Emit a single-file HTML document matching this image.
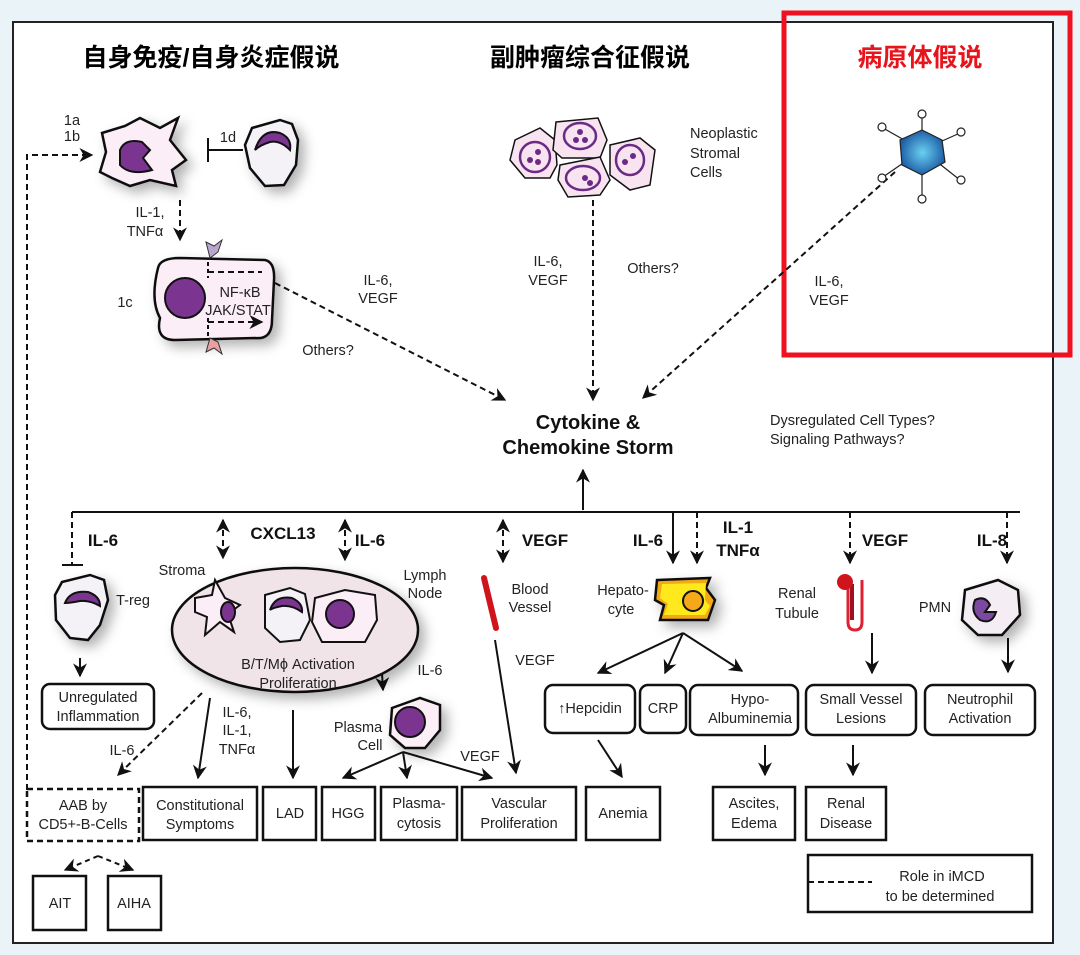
<!DOCTYPE html>
<html><head><meta charset="utf-8"><style>
html,body{margin:0;padding:0;background:#eaf4f8;}
svg{display:block;font-family:"Liberation Sans","Noto Sans CJK SC",sans-serif;}
</style></head><body>
<svg width="1080" height="955" viewBox="0 0 1080 955" xmlns="http://www.w3.org/2000/svg">
<defs>
<marker id="a" viewBox="0 0 10 10" refX="9" refY="5" markerWidth="7" markerHeight="7" orient="auto-start-reverse"><path d="M0,0 L10,5 L0,10 L3,5z" fill="#111"/></marker>
<filter id="sh" x="-30%" y="-30%" width="170%" height="170%"><feDropShadow dx="6" dy="6" stdDeviation="6" flood-color="#000" flood-opacity="0.3"/></filter>
<radialGradient id="vg"><stop offset="0" stop-color="#6ad0f0"/><stop offset="1" stop-color="#1e5fa8"/></radialGradient>
</defs>
<rect x="0" y="0" width="1080" height="955" fill="#eaf4f8"/>
<rect x="13" y="22" width="1040" height="921" fill="#fff" stroke="#222" stroke-width="2"/>
<g font-weight="bold" font-size="25" text-anchor="middle">
<text x="211" y="66">自身免疫/自身炎症假说</text>
<text x="590" y="66">副肿瘤综合征假说</text>
<text x="920" y="66" fill="#e8141c">病原体假说</text>
</g>
<rect x="784" y="13" width="286" height="342" fill="none" stroke="#f01020" stroke-width="5"/>

<g stroke="#111" stroke-width="2" fill="none">
<path d="M27,790 V155 H92" stroke-dasharray="6,4" marker-end="url(#a)"/>
<path d="M208,138 V162 M208,150 H243"/>
<path d="M180,200 V240" stroke-dasharray="6,4" marker-end="url(#a)"/>
<path d="M275,283 L505,400" stroke-dasharray="6,4" marker-end="url(#a)"/>
<path d="M593,200 V400" stroke-dasharray="6,4" marker-end="url(#a)"/>
<path d="M895,172 L643,398" stroke-dasharray="6,4" marker-end="url(#a)"/>
<path d="M583,510 V470" marker-end="url(#a)"/>
<path d="M72,512 H1020"/>
<path d="M72,512 V565" stroke-dasharray="6,4"/>
<path d="M62,565 H83"/>
<path d="M223,520 V558" stroke-dasharray="6,4" marker-start="url(#a)" marker-end="url(#a)"/>
<path d="M345,520 V560" stroke-dasharray="6,4" marker-start="url(#a)" marker-end="url(#a)"/>
<path d="M503,520 V562" stroke-dasharray="6,4" marker-start="url(#a)" marker-end="url(#a)"/>
<path d="M673,512 V563" marker-end="url(#a)"/>
<path d="M697,512 V563" stroke-dasharray="6,4" marker-end="url(#a)"/>
<path d="M850,512 V563" stroke-dasharray="6,4" marker-end="url(#a)"/>
<path d="M1007,512 V563" stroke-dasharray="6,4" marker-end="url(#a)"/>
<path d="M80,658 V676" marker-end="url(#a)"/>
<path d="M380,640 L383,690" marker-end="url(#a)"/>
<path d="M403,752 L343,778" marker-end="url(#a)"/>
<path d="M403,752 L407,778" marker-end="url(#a)"/>
<path d="M403,752 L492,778" marker-end="url(#a)"/>
<path d="M202,693 L118,775" stroke-dasharray="6,4" marker-end="url(#a)"/>
<path d="M210,698 L198,778" marker-end="url(#a)"/>
<path d="M293,710 V778" marker-end="url(#a)"/>
<path d="M495,640 L516,773" marker-end="url(#a)"/>
<path d="M683,633 L598,673" marker-end="url(#a)"/>
<path d="M683,633 L665,673" marker-end="url(#a)"/>
<path d="M683,633 L742,671" marker-end="url(#a)"/>
<path d="M598,740 L622,777" marker-end="url(#a)"/>
<path d="M765,745 V775" marker-end="url(#a)"/>
<path d="M853,745 V775" marker-end="url(#a)"/>
<path d="M872,633 V673" marker-end="url(#a)"/>
<path d="M1008,638 V672" marker-end="url(#a)"/>
<path d="M98,856 L65,870" stroke-dasharray="5,4" marker-end="url(#a)"/>
<path d="M98,856 L133,870" stroke-dasharray="5,4" marker-end="url(#a)"/>
</g>

<g stroke="#111" stroke-width="2.5" filter="url(#sh)">
<path d="M102,133 L125,126 L140,118 L160,128 L178,118 L170,140 L186,160 L172,170 L176,186 L150,180 L130,186 L112,178 L100,172 L106,152z" fill="#fbeef6"/>
<path d="M252,128 L280,120 L292,124 L298,140 L296,165 L284,185 L265,186 L250,168 L245,145z" fill="#f4f2f6"/>
<path d="M158,268 Q160,258 180,258 L265,260 Q275,262 274,280 L272,320 Q272,340 255,338 L175,340 Q155,340 160,318 Q150,300 158,268z" fill="#fbeef6"/>
</g>
<g stroke="#111" stroke-width="2" fill="#7b3591">
<path d="M120,150 Q125,138 142,142 L150,150 L143,158 L152,170 Q130,176 120,165z"/>
<path d="M255,150 Q262,128 280,133 Q292,138 290,150 Q280,140 270,142 Q260,145 255,150z"/>
<circle cx="185" cy="298" r="20"/>
</g>
<g stroke="#111" stroke-width="2" fill="none">
<path d="M208,262 V278 M208,318 V338" stroke-dasharray="4,3"/>
<path d="M208,272 H262 M208,322 H262" stroke-dasharray="6,4" marker-end="url(#a)"/>
</g>
<path d="M206,242 L214,246 L222,240 L218,252 L210,258z" fill="#b9a6cf" stroke="#333"/>
<path d="M206,352 L214,348 L222,354 L218,342 L210,338z" fill="#e9a0a0" stroke="#333"/>

<g stroke="#111" stroke-width="1.5" fill="#f8e4f0">
<path d="M515,140 L540,128 L555,140 L557,165 L550,178 L525,178 L510,160z"/>
<path d="M556,122 L598,118 L607,140 L600,158 L562,158 L553,150z"/>
<path d="M610,145 L640,138 L655,150 L650,185 L630,190 L610,175z"/>
<path d="M560,165 L600,157 L610,180 L600,195 L568,197 L558,180z"/>
</g>
<g stroke="#6a2a85" stroke-width="2.5" fill="none">
<ellipse cx="535" cy="157" rx="15" ry="15"/><ellipse cx="580" cy="136" rx="16" ry="13"/><ellipse cx="630" cy="160" rx="14" ry="15"/><ellipse cx="583" cy="178" rx="17" ry="12"/>
</g>
<g fill="#6a2a85"><circle cx="530" cy="160" r="3"/><circle cx="538" cy="152" r="3"/><circle cx="538" cy="162" r="3"/><circle cx="580" cy="132" r="3"/><circle cx="576" cy="140" r="3"/><circle cx="585" cy="140" r="3"/><circle cx="625" cy="162" r="3"/><circle cx="633" cy="156" r="3"/><circle cx="585" cy="178" r="3"/><circle cx="590" cy="183" r="3"/></g>

<g stroke="#222" stroke-width="1.2">
<line x1="922" y1="150" x2="922" y2="115"/><line x1="922" y1="150" x2="922" y2="198"/><line x1="922" y1="150" x2="883" y2="128"/><line x1="922" y1="150" x2="960" y2="133"/><line x1="922" y1="150" x2="883" y2="177"/><line x1="922" y1="150" x2="960" y2="180"/>
<polygon points="922,130 942,140 945,162 922,175 902,165 900,140" fill="url(#vg)"/>
<g fill="#fff"><circle cx="922" cy="114" r="4"/><circle cx="922" cy="199" r="4"/><circle cx="882" cy="127" r="4"/><circle cx="961" cy="132" r="4"/><circle cx="882" cy="178" r="4"/><circle cx="961" cy="180" r="4"/></g>
</g>

<g stroke="#111" stroke-width="2.5" filter="url(#sh)">
<path d="M62,582 L90,575 L104,580 L108,600 L100,625 L88,640 L70,638 L56,620 L55,595z" fill="#f4f2f6"/>
<ellipse cx="295" cy="630" rx="123" ry="62" fill="#f1e4e8"/>
<path d="M392,708 L420,698 L440,705 L440,730 L425,748 L405,748 L390,735z" fill="#fbeef6"/>
<path d="M657,580 L710,578 L706,588 L715,600 L708,620 L660,620 L664,605 L655,600z" fill="#f3a818"/>
<path d="M662,584 L706,583 L705,600 L710,606 L705,615 L664,615 L668,604 L660,598z" fill="#ffe81a" stroke="none"/>
<path d="M965,590 L998,580 L1018,590 L1020,615 L1002,635 L978,635 L962,620z" fill="#f4eef4"/>
</g>
<g stroke="#111" stroke-width="2" fill="#7b3591">
<path d="M65,603 Q70,590 88,592 Q100,596 100,606 Q90,600 80,601 Q70,603 65,603z"/>
<ellipse cx="693" cy="601" rx="10" ry="10" fill="#f5a81a"/>
<circle cx="410" cy="722" r="15"/>
<path d="M975,600 Q985,595 990,605 L985,612 L996,612 Q992,625 980,620 Q970,612 975,600z" fill="#7b4aa0"/>
</g>
<g stroke="#111" stroke-width="2">
<path d="M195,598 L212,595 L215,580 L225,598 L240,605 L228,614 L234,632 L220,622 L205,635 L207,617 L195,612z" fill="#fbeef6"/>
<ellipse cx="228" cy="612" rx="7" ry="10" fill="#7b3591"/>
<path d="M265,595 L290,588 L305,594 L310,620 L300,640 L280,642 L265,628z" fill="#f4f2f6"/>
<path d="M270,610 Q275,595 292,598 Q303,603 302,612 Q292,605 282,606 Q272,608 270,610z" fill="#7b3591"/>
<path d="M315,598 L345,590 L375,595 L377,620 L365,642 L322,642 L312,622z" fill="#fbeef6"/>
<circle cx="340" cy="614" r="14" fill="#7b3591"/>
</g>
<line x1="484" y1="578" x2="496" y2="628" stroke="#d0141c" stroke-width="6" stroke-linecap="round"/>
<path d="M848,584 V622 Q848,630 855,630 Q862,630 862,622 V580" fill="none" stroke="#e02030" stroke-width="3"/>
<path d="M852,584 V620" stroke="#a01020" stroke-width="4"/>
<circle cx="845" cy="582" r="8" fill="#d0141c"/>

<g fill="#fff" stroke="#111" stroke-width="2.5">
<rect x="42" y="684" width="112" height="45" rx="8"/>
<rect x="545" y="685" width="90" height="48" rx="8"/>
<rect x="640" y="685" width="46" height="48" rx="8"/>
<rect x="690" y="685" width="108" height="50" rx="8"/>
<rect x="806" y="685" width="110" height="50" rx="8"/>
<rect x="925" y="685" width="110" height="50" rx="8"/>
<rect x="143" y="787" width="114" height="53"/>
<rect x="263" y="787" width="53" height="53"/>
<rect x="322" y="787" width="53" height="53"/>
<rect x="381" y="787" width="76" height="53"/>
<rect x="462" y="787" width="114" height="53"/>
<rect x="586" y="787" width="74" height="53"/>
<rect x="713" y="787" width="82" height="53"/>
<rect x="806" y="787" width="80" height="53"/>
<rect x="33" y="876" width="53" height="54"/>
<rect x="108" y="876" width="53" height="54"/>
<rect x="808" y="855" width="224" height="57"/>
<rect x="27" y="789" width="112" height="52" stroke-dasharray="6,4"/>
</g>
<line x1="808" y1="882" x2="872" y2="882" stroke="#111" stroke-width="2" stroke-dasharray="6,4"/>

<g font-size="14.5" fill="#222" text-anchor="middle">
<text x="72" y="125">1a</text><text x="72" y="141">1b</text>
<text x="228" y="142">1d</text>
<text x="150" y="217">IL-1,</text><text x="145" y="236">TNFα</text>
<text x="125" y="307">1c</text>
<text x="240" y="297">NF-κB</text><text x="238" y="315">JAK/STAT</text>
<text x="378" y="285">IL-6,</text><text x="378" y="303">VEGF</text>
<text x="328" y="355">Others?</text>
<text x="548" y="266">IL-6,</text><text x="548" y="285">VEGF</text>
<text x="653" y="273">Others?</text>
<text x="829" y="286">IL-6,</text><text x="829" y="305">VEGF</text>
<g text-anchor="start"><text x="690" y="138">Neoplastic</text><text x="690" y="158">Stromal</text><text x="690" y="177">Cells</text>
<text x="770" y="425">Dysregulated Cell Types?</text><text x="770" y="444">Signaling Pathways?</text></g>
<text x="133" y="605">T-reg</text>
<text x="182" y="575">Stroma</text>
<text x="425" y="580">Lymph</text><text x="425" y="598">Node</text>
<text x="298" y="669">B/T/Mϕ Activation</text><text x="298" y="688">Proliferation</text>
<text x="430" y="675">IL-6</text>
<text x="358" y="732">Plasma</text><text x="370" y="750">Cell</text>
<text x="480" y="761">VEGF</text>
<text x="122" y="755">IL-6</text>
<text x="237" y="717">IL-6,</text><text x="237" y="735">IL-1,</text><text x="237" y="754">TNFα</text>
<text x="530" y="594">Blood</text><text x="530" y="612">Vessel</text>
<text x="535" y="665">VEGF</text>
<text x="623" y="595">Hepato-</text><text x="621" y="614">cyte</text>
<text x="797" y="598">Renal</text><text x="797" y="618">Tubule</text>
<text x="935" y="612">PMN</text>
<text x="98" y="702">Unregulated</text><text x="98" y="721">Inflammation</text>
<text x="590" y="713">↑Hepcidin</text>
<text x="663" y="713">CRP</text>
<text x="750" y="704">Hypo-</text><text x="750" y="723">Albuminemia</text>
<text x="861" y="704">Small Vessel</text><text x="861" y="723">Lesions</text>
<text x="980" y="704">Neutrophil</text><text x="980" y="723">Activation</text>
<text x="83" y="810">AAB by</text><text x="83" y="829">CD5+-B-Cells</text>
<text x="200" y="810">Constitutional</text><text x="200" y="829">Symptoms</text>
<text x="290" y="818">LAD</text>
<text x="348" y="818">HGG</text>
<text x="419" y="808">Plasma-</text><text x="419" y="828">cytosis</text>
<text x="519" y="808">Vascular</text><text x="519" y="828">Proliferation</text>
<text x="623" y="818">Anemia</text>
<text x="754" y="808">Ascites,</text><text x="754" y="828">Edema</text>
<text x="846" y="808">Renal</text><text x="846" y="828">Disease</text>
<text x="60" y="908">AIT</text><text x="134" y="908">AIHA</text>
<text x="942" y="881">Role in iMCD</text><text x="940" y="901">to be determined</text>
</g>
<g font-size="17" font-weight="bold" fill="#111" text-anchor="middle">
<text x="588" y="429" font-size="20">Cytokine &amp;</text><text x="588" y="454" font-size="20">Chemokine Storm</text>
<text x="103" y="546">IL-6</text>
<text x="283" y="539">CXCL13</text>
<text x="370" y="546">IL-6</text>
<text x="545" y="546">VEGF</text>
<text x="648" y="546">IL-6</text>
<text x="738" y="533">IL-1</text><text x="738" y="556">TNFα</text>
<text x="885" y="546">VEGF</text>
<text x="992" y="546">IL-8</text>
</g>
</svg>
</body></html>
